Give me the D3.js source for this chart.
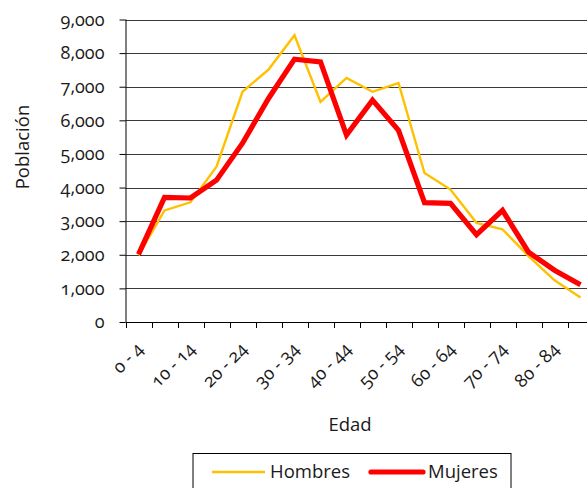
<!DOCTYPE html>
<html><head><meta charset="utf-8">
<script src="https://cdn.jsdelivr.net/npm/d3@7"></script>
<style>
body{margin:0;background:#fff;}
text{font-family:"Open Sans",sans-serif;fill:#1a1a1a;font-variant-numeric:oldstyle-nums;}
</style></head><body>
<svg id="c" width="587" height="488"></svg>
<script>
const categories = ["0 - 4","5 - 9","10 - 14","15 - 19","20 - 24","25 - 29","30 - 34","35 - 39","40 - 44","45 - 49","50 - 54","55 - 59","60 - 64","65 - 69","70 - 74","75 - 79","80 - 84","85 +"];
const hombres = [1980,3320,3560,4620,6850,7510,8530,6550,7260,6850,7110,4430,3940,2950,2760,1960,1240,730];
const mujeres = [2010,3710,3690,4220,5320,6650,7820,7740,5560,6600,5700,3550,3530,2600,3320,2080,1540,1110];
const yTicks = [0,1000,2000,3000,4000,5000,6000,7000,8000,9000];

const svg = d3.select("#c");
const mLeft = 125.5, mTop = 19.5, mBottom = 322, mRight = mLeft + 26*categories.length;
const x = d3.scaleBand().domain(categories).range([mLeft, mRight]);
const y = d3.scaleLinear().domain([0,9000]).range([mBottom, mTop]);
const fmt = d3.format(",");

// gridlines
svg.append("g").selectAll("line").data(yTicks.slice(1)).join("line")
  .attr("x1", mLeft).attr("x2", 587)
  .attr("y1", d=>Math.round(y(d))+0.5).attr("y2", d=>Math.round(y(d))+0.5)
  .attr("stroke", "#3a3a3a").attr("stroke-width",1);

// y axis
const ya = svg.append("g").attr("transform",`translate(${mLeft},0)`)
  .call(d3.axisLeft(y).tickValues(yTicks).tickFormat(fmt).tickSize(6).tickPadding(15));
ya.select(".domain").attr("stroke","#000").attr("d",`M0.5,${mTop}V${mBottom}`);
ya.selectAll(".tick line").attr("stroke","#000");
ya.selectAll(".tick text").attr("font-size",18).style("font-family","'Open Sans',sans-serif").attr("fill","#1a1a1a");

// x axis
const xa = svg.append("g").attr("transform",`translate(0,${mBottom})`);
xa.append("line").attr("x1",mLeft).attr("x2",587).attr("y1",0.5).attr("y2",0.5).attr("stroke","#000");
const bounds = categories.map((c,i)=>x(c));
xa.selectAll("line.t").data(bounds).join("line").attr("class","t")
  .attr("x1",d=>Math.round(d)+0.5).attr("x2",d=>Math.round(d)+0.5).attr("y1",0).attr("y2",6).attr("stroke","#000");
xa.selectAll("text").data(categories.filter((c,i)=>i%2===0)).join("text")
  .attr("text-anchor","end").attr("font-size",18)
  .attr("transform",d=>`translate(${x(d)+x.bandwidth()/2+6},${28}) rotate(-45)`)
  .text(d=>d);

// lines
const line = d3.line().x((d,i)=>x(categories[i])+x.bandwidth()/2).y(d=>y(d));
svg.append("path").datum(hombres).attr("d",line).attr("fill","none")
  .attr("stroke","#FFC000").attr("stroke-width",2.4).attr("stroke-linejoin","miter");
svg.append("path").datum(mujeres).attr("d",line).attr("fill","none")
  .attr("stroke","#FF0000").attr("stroke-width",5.2).attr("stroke-linejoin","miter");

// axis titles
svg.append("text").attr("transform","translate(29,147) rotate(-90)").attr("text-anchor","middle")
  .attr("font-size",18.5).text("Población");
svg.append("text").attr("x",350).attr("y",431).attr("text-anchor","middle").attr("font-size",18.5).text("Edad");

// legend
const lg = svg.append("g");
lg.append("rect").attr("x",193).attr("y",453.5).attr("width",318).attr("height",50)
  .attr("fill","#fff").attr("stroke","#000").attr("stroke-width",1);
lg.append("line").attr("x1",212).attr("x2",265).attr("y1",472).attr("y2",472).attr("stroke","#FFC000").attr("stroke-width",2.4);
lg.append("text").attr("x",270).attr("y",478).attr("font-size",18.5).text("Hombres");
lg.append("line").attr("x1",371).attr("x2",423).attr("y1",472).attr("y2",472).attr("stroke","#FF0000").attr("stroke-width",5.2).attr("stroke-linecap","round");
lg.append("text").attr("x",428).attr("y",478).attr("font-size",18.5).text("Mujeres");
</script></body></html>
